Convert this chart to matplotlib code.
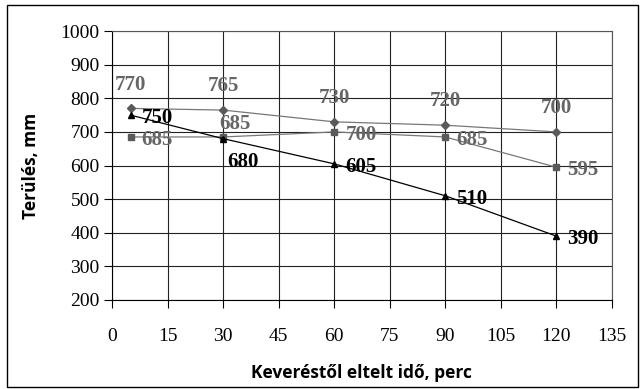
import matplotlib.pyplot as plt
from matplotlib.patches import Rectangle

# adatok
ido = [5, 30, 60, 90, 120]
sor1 = [770, 765, 730, 720, 700]   # rombusz
sor2 = [685, 685, 700, 685, 595]   # negyzet
sor3 = [750, 680, 605, 510, 390]   # haromszog

x_ticks = [0, 15, 30, 45, 60, 75, 90, 105, 120, 135]
y_ticks = [200, 300, 400, 500, 600, 700, 800, 900, 1000]

# címkék eltolása (pont, képpont)
off1 = [(0, 10), (0, 10), (0, 10), (0, 10), (0, 10)]
off2 = [(8, -2), (-3, 9), (8, -2), (8, -2), (8, -2)]
off3 = [(8, -2), (3, -17), (8, -2), (8, -2), (8, -2)]

szurke = '#666666'
serif = ['Liberation Serif', 'DejaVu Serif']

fig = plt.figure(figsize=(6.44, 3.89), dpi=100)
ax = fig.add_axes([0.174, 0.229, 0.776, 0.691])

ax.plot(ido, sor1, color='#777777', lw=0.9, marker='D', ms=4,
        mfc='#5a5a5a', mec='#5a5a5a', zorder=3)
ax.plot(ido, sor2, color='#777777', lw=0.9, marker='s', ms=4.2,
        mfc='#5a5a5a', mec='#5a5a5a', zorder=3)
ax.plot(ido, sor3, color='black', lw=0.9, marker='^', ms=4.5,
        mfc='black', mec='black', zorder=3)

cimke = dict(fontsize=15, fontweight='bold', family=serif)
for x, y, o in zip(ido, sor1, off1):
    ax.annotate(str(y), (x, y), xytext=o, textcoords='offset points',
                ha='center', va='bottom', color=szurke, **cimke)
for x, y, o in zip(ido, sor2, off2):
    ax.annotate(str(y), (x, y), xytext=o, textcoords='offset points',
                ha='left', va='center', color=szurke, **cimke)
for x, y, o in zip(ido, sor3, off3):
    ax.annotate(str(y), (x, y), xytext=o, textcoords='offset points',
                ha='left', va='center', color='black', **cimke)

ax.set_xlim(0, 135)
ax.set_ylim(200, 1000)
ax.set_xticks(x_ticks)
ax.set_yticks(y_ticks)
ax.grid(True, color='#222222', lw=0.8)
ax.set_axisbelow(True)
for s in ax.spines.values():
    s.set_color('#555555')
    s.set_linewidth(0.8)
ax.spines['left'].set_color('black')
ax.spines['bottom'].set_color('black')
ax.tick_params(direction='out', length=6, width=0.8, labelsize=14,
               pad=3, color='black')
ax.tick_params(axis='x', pad=14)
for t in ax.get_xticklabels() + ax.get_yticklabels():
    t.set_family(serif)

ax.set_xlabel('Keveréstől eltelt idő, perc', fontsize=12.5, fontweight='bold',
              family='Open Sans', labelpad=14)
ax.set_ylabel('Terülés, mm', fontsize=12.5, fontweight='bold', family='Open Sans',
              labelpad=15)

fig.patches.append(Rectangle((0.011, 0.005), 0.979, 0.982, transform=fig.transFigure,
                             fill=False, ec='black', lw=1.0))

fig.savefig('out.png', dpi=100)
